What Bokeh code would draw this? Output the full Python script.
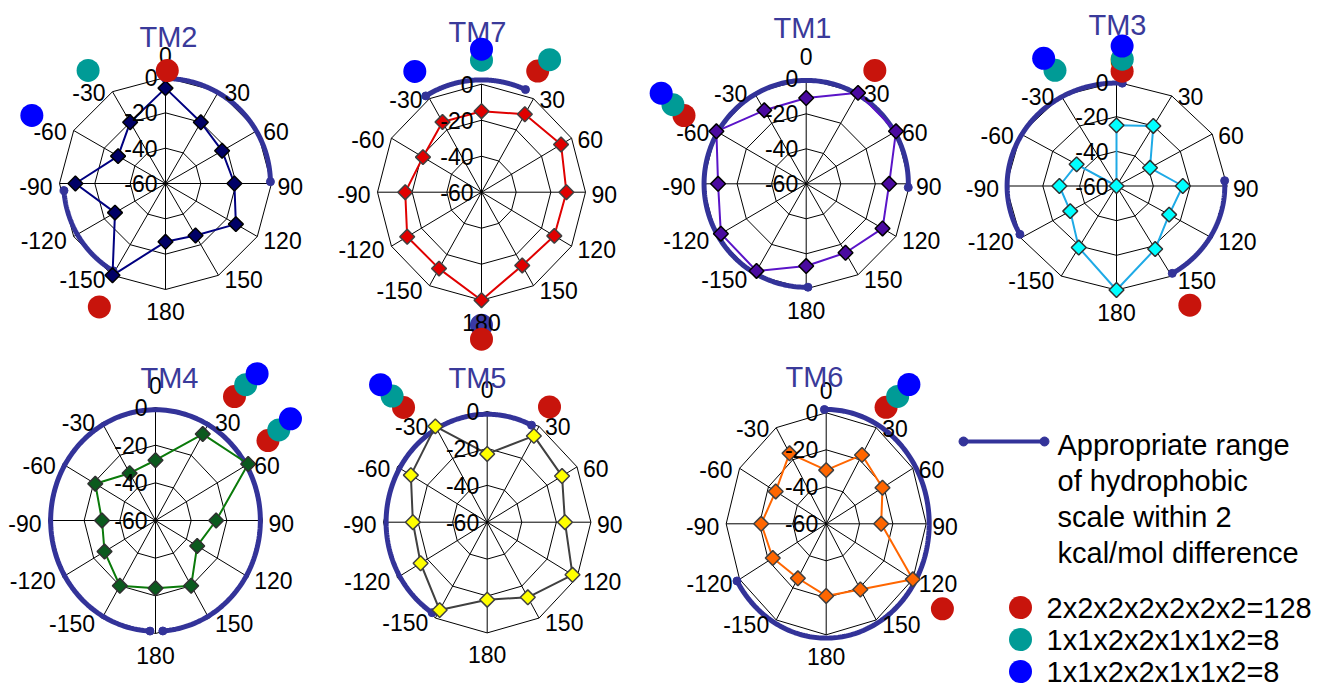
import numpy as np
from bokeh.plotting import figure
from bokeh.models import Range1d
from bokeh.core.properties import value
from bokeh.embed import file_html
from bokeh.resources import INLINE

# ---------------- data ----------------
ANGLES = [0, 30, 60, 90, 120, 150, 180, -150, -120, -90, -60, -30]
ANGLE_LABELS = ["0", "30", "60", "90", "120", "150", "180", "-150", "-120", "-90", "-60", "-30"]
RING_VALUES = [-60, -40, -20, 0]
RING_LABELS = ["-60", "-40", "-20", "0"]
R_MIN, R_MAX = -60, 0

PANELS = ["TM2", "TM7", "TM1", "TM3", "TM4", "TM5", "TM6"]
TM2 = [-6, -20, -23, -21, -14, -26, -27, 0, -27, -9, -29, -20]
TM7 = [-15, -10, -7, -11, -11.5, -13, 0, -11, -10.5, -16, -21, -15]
TM1 = [-11, 0, 0, -12, -9, -14.5, -13, -2.5, -3, -9, 0, -11.5]
TM3 = [-25, -20, -39, -24, -27, -18, 0, -19, -31, -29, -35, -60]
TM4 = [-28, -7, 0, -26, -33, -20, -24, -20, -27, -30, -21, -31]
TM5 = [-23, -6, -10, -15, -3, -13, -18, -5, -15.5, -17, -9, 0]
TM6 = [-31, -17, -21, -27, 0, -19, -21, -26, -23, -21, -25, -16]
VALUES = {"TM2": TM2, "TM7": TM7, "TM1": TM1, "TM3": TM3, "TM4": TM4, "TM5": TM5, "TM6": TM6}

# appropriate-range arcs: (start angle, end angle) in degrees, clockwise from top
ARC_RANGES = {
    "TM2": [(0, 89), (-149, -94)],
    "TM7": [(-31, 24)],
    "TM1": [(-181, 92)],
    "TM3": [(-118, 3), (87, 149)],
    "TM4": [(-177, 176)],
    "TM5": [(-147, 26)],
    "TM6": [(-1, 240)],
}

# marker dots (angle in degrees, kind)
DOT_ANGLES = {
    "TM2": [0.9, -34.4, -63, -151.8],
    "TM7": [-28.9, 0, 0, 24.9, 27.2, 180, 180],
    "TM1": [-60.8, -59.3, -58, 31.2],
    "TM3": [-28, -29.7, 2.8, 2.6, 2.3, 148.4],
    "TM4": [32.5, 33.6, 34.7, 54.6, 53.7, 53],
    "TM5": [-36.1, -37, -37.8, 28.4],
    "TM6": [27.2, 29.3, 30.7, 126.2],
}
DOT_KINDS = {
    "TM2": ["r", "t", "b", "r"],
    "TM7": ["b", "t", "b", "r", "t", "n", "r"],
    "TM1": ["r", "t", "b", "r"],
    "TM3": ["t", "b", "r", "t", "b", "r"],
    "TM4": ["r", "t", "b", "r", "t", "b"],
    "TM5": ["r", "t", "b", "r"],
    "TM6": ["r", "t", "b", "r"],
}

LEGEND_RANGE_TEXT = ["Appropriate range", "of hydrophobic", "scale within 2", "kcal/mol difference"]
LEGEND_DOT_TEXT = ["2x2x2x2x2x2x2=128", "1x1x2x2x1x1x2=8", "1x1x2x2x1x1x2=8"]
LEGEND_DOT_KINDS = ["r", "t", "b"]

# ---------------- layout / style ----------------
# centre x, centre y, radius x, radius y (page pixels)
LAYOUT = {
    "TM2": (165, 183, 106, 106),
    "TM7": (481, 191.7, 104, 108),
    "TM1": (805.7, 183.3, 103.7, 105),
    "TM3": (1116, 185.5, 110.5, 104),
    "TM4": (155, 520, 107, 113),
    "TM5": (486.7, 521.7, 103.7, 110.7),
    "TM6": (825.7, 523.3, 100, 111),
}
TITLE_POS = {
    "TM2": (168, 36), "TM7": (477, 31), "TM1": (802, 27.5), "TM3": (1117, 24),
    "TM4": (169, 377), "TM5": (477, 377), "TM6": (814, 376),
}
ARC_FRAC = {"TM2": [0.99, 0.96], "TM7": [1.04], "TM1": [0.985], "TM3": [0.99, 0.98],
            "TM4": [0.98], "TM5": [0.975], "TM6": [1.03]}
DOT_DIST = {
    "TM2": [113, 137, 150, 140],
    "TM7": [138, 132, 143, 133.5, 149, 133, 147],
    "TM1": [140, 155, 171, 132.5],
    "TM3": [131, 147, 115, 127, 140, 140],
    "TM4": [147, 163, 178.5, 138, 153, 169],
    "TM5": [142, 158, 174, 131],
    "TM6": [131, 146, 162, 144],
}
LINE_COLORS = {"TM2": "#000080", "TM7": "#E00000", "TM1": "#5A14C8", "TM3": "#1EAAE6",
               "TM4": "#0A7A0A", "TM5": "#404040", "TM6": "#FF6600"}
FILL_COLORS = {"TM2": "#000066", "TM7": "#E00000", "TM1": "#4A0AA0", "TM3": "#00FFFF",
               "TM4": "#0B5A1E", "TM5": "#FFFF00", "TM6": "#FF6600"}
EDGE_COLORS = {"TM2": "#000000", "TM7": "#404040", "TM1": "#000000", "TM3": "#303030",
               "TM4": "#303030", "TM5": "#404040", "TM6": "#404040"}
DOT_COLORS = {"r": "#C8140C", "t": "#009B96", "b": "#0000FF", "n": "#3A3AA6"}
ARC_COLOR = "#333399"
TITLE_COLOR = "#3A3A9A"
FONT = value("Liberation Sans")

W, H = 1326, 688
p = figure(width=W, height=H, output_backend="svg", toolbar_location=None,
           x_range=Range1d(0, W), y_range=Range1d(H, 0),
           min_border=0, outline_line_color=None,
           x_axis_location=None, y_axis_location=None,
           background_fill_color="white", border_fill_color="white")
p.grid.visible = False


def frac(v):
    return (np.asarray(v, dtype=float) - R_MIN) / (R_MAX - R_MIN)


def polar(name, theta_deg, f):
    cx, cy, rx, ry = LAYOUT[name]
    t = np.radians(np.asarray(theta_deg, dtype=float))
    return cx + rx * f * np.sin(t), cy - ry * f * np.cos(t)


def polar_px(name, theta_deg, d):
    cx, cy, _, _ = LAYOUT[name]
    t = np.radians(np.asarray(theta_deg, dtype=float))
    d = np.asarray(d, dtype=float)
    return cx + d * np.sin(t), cy - d * np.cos(t)


ang_closed = ANGLES + [ANGLES[0]]

# ---- grid, arcs, data ----
for name in PANELS:
    cx, cy, rx, ry = LAYOUT[name]
    # rings
    xs, ys = [], []
    for rv in RING_VALUES[1:]:
        x, y = polar(name, ang_closed, frac(rv))
        xs.append(list(x)); ys.append(list(y))
    p.multi_line(xs, ys, line_color="black", line_width=1)
    # spokes
    ox, oy = polar(name, ANGLES, 1.0)
    p.segment(x0=[cx] * len(ANGLES), y0=[cy] * len(ANGLES), x1=list(ox), y1=list(oy),
              line_color="black", line_width=1)
    # appropriate range arcs
    for (a0, a1), af in zip(ARC_RANGES[name], ARC_FRAC[name]):
        th = np.linspace(a0, a1, 200)
        x, y = polar(name, th, af)
        p.line(list(x), list(y), line_color=ARC_COLOR, line_width=5, line_cap="round")
        ex, ey = polar(name, [a0, a1], af)
        p.scatter(list(ex), list(ey), marker="circle", size=8, fill_color=ARC_COLOR,
                  line_color=ARC_COLOR)
    # data polygon
    vals = VALUES[name]
    x, y = polar(name, ang_closed, frac(vals + [vals[0]]))
    p.line(list(x), list(y), line_color=LINE_COLORS[name], line_width=2)
    p.scatter(list(x[:-1]), list(y[:-1]), marker="square", angle=np.pi / 4, size=10.5,
              fill_color=FILL_COLORS[name], line_color=EDGE_COLORS[name], line_width=1.5)

# ---- navy dots (behind texts) ----
for name in PANELS:
    for a, d, k in zip(DOT_ANGLES[name], DOT_DIST[name], DOT_KINDS[name]):
        if k == "n":
            x, y = polar_px(name, [a], [d])
            p.scatter(list(x), list(y), marker="circle", size=23,
                      fill_color=DOT_COLORS[k], line_color=None)

# ---- texts ----
LBL = dict(text_font=FONT, text_font_size="23px", text_color="black")
for name in PANELS:
    cx, cy, rx, ry = LAYOUT[name]
    # ring labels
    p.text(x=[cx - 8] * len(RING_VALUES), y=list(cy - ry * frac(RING_VALUES)),
           text=RING_LABELS, text_align="right", text_baseline="middle", **LBL)
    # angle labels
    groups = {"left": ([], [], []), "right": ([], [], []), "center": ([], [], [])}
    for th, lab in zip(ANGLES, ANGLE_LABELS):
        vx, vy = polar(name, th, 1.0)
        c = np.cos(np.radians(th))
        if th == 0:
            g, x, y = "center", vx, vy - 22
        elif th == 180:
            g, x, y = "center", vx, vy + 22
        elif th > 0:
            g, x, y = "left", vx + 6, vy + 2.5 - 2.5 * c
        else:
            g, x, y = "right", vx - 7, vy + 2.5 - 2.5 * c
        groups[g][0].append(float(x)); groups[g][1].append(float(y)); groups[g][2].append(lab)
    for g, (gx, gy, gt) in groups.items():
        p.text(x=gx, y=gy, text=gt, text_align=g, text_baseline="middle", **LBL)
    # title
    tx, ty = TITLE_POS[name]
    p.text(x=[tx], y=[ty], text=[name], text_align="center", text_baseline="middle",
           text_font=FONT, text_font_size="29px", text_color=TITLE_COLOR)

# ---- coloured dots (above texts) ----
for kind in ["r", "t", "b"]:
    for name in PANELS:
        sel = [(a, d) for a, d, k in zip(DOT_ANGLES[name], DOT_DIST[name], DOT_KINDS[name]) if k == kind]
        if not sel:
            continue
        x, y = polar_px(name, [s[0] for s in sel], [s[1] for s in sel])
        p.scatter(list(x), list(y), marker="circle", size=23,
                  fill_color=DOT_COLORS[kind], line_color=None)

# ---- legend ----
p.line([963, 1044], [441, 441], line_color=ARC_COLOR, line_width=4)
p.scatter([963, 1044], [441, 441], marker="circle", size=9, fill_color=ARC_COLOR, line_color=ARC_COLOR)
p.text(x=[1057] * 4, y=[444 + 36 * i for i in range(4)], text=LEGEND_RANGE_TEXT,
       text_align="left", text_baseline="middle", text_font=FONT,
       text_font_size="29px", text_color="black")
for i, (lab, k) in enumerate(zip(LEGEND_DOT_TEXT, LEGEND_DOT_KINDS)):
    yc = 607 + 32 * i
    p.scatter([1020], [yc], marker="circle", size=23, fill_color=DOT_COLORS[k], line_color=None)
    p.text(x=[1046], y=[yc], text=[lab], text_align="left", text_baseline="middle",
           text_font=FONT, text_font_size="29px", text_color="black")

open("out.html", "w").write(file_html(p, INLINE))
